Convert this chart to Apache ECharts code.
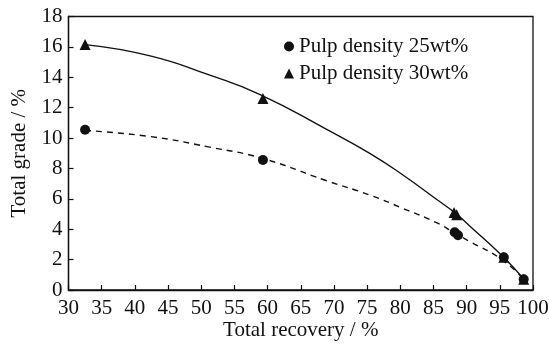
<!DOCTYPE html>
<html>
<head>
<meta charset="utf-8">
<script src="https://cdn.jsdelivr.net/npm/echarts@6/dist/echarts.min.js"></script>
<style>
  html, body { margin: 0; padding: 0; background: #fff; }
  #chart { width: 549px; height: 347px; }
</style>
</head>
<body>
<div id="chart"></div>
<script>
// Measured points: [total recovery %, total grade %]
const density25 = [[32.5, 10.55], [59.3, 8.55], [88.2, 3.8], [88.7, 3.6], [95.6, 2.15], [98.6, 0.7]];
const density30 = [[32.5, 16.15], [59.3, 12.6], [88.1, 5.1], [88.5, 4.95], [95.6, 2.15], [98.6, 0.7]];
// Fitted trend curves, sampled along their drawn path
const trend25 = [[32.5, 10.5], [42.3, 10.1], [51.3, 9.4], [59.3, 8.65], [68.9, 7.19], [75.4, 6.25],
                 [80.4, 5.37], [85.45, 4.43], [88.2, 3.75], [90.5, 3.18], [95.0, 2.1], [98.5, 0.77]];
const trend30 = [[32.5, 16.15], [42.3, 15.41], [51.3, 14.14], [58.8, 12.88], [68.9, 10.57], [75.4, 8.99],
                 [80.4, 7.57], [85.45, 5.97], [88.2, 5.09], [90.5, 4.2], [95.5, 2.19], [98.5, 0.77]];
const seriesNames = ['Pulp density 25wt%', 'Pulp density 30wt%'];
const xTicks = { min: 30, max: 100, step: 5 };
const yTicks = { min: 0, max: 18, step: 2 };

const serif = 'Liberation Serif, Times New Roman, serif';
const ink = '#111';

const chart = echarts.init(document.getElementById('chart'), null, { renderer: 'canvas' });

function axisCommon() {
  return {
    axisLine: { show: true, lineStyle: { color: ink, width: 1.3 } },
    axisTick: { show: true, inside: true, length: 5, lineStyle: { color: ink, width: 1.2 } },
    splitLine: { show: false },
    nameMoveOverlap: false,
    nameTextStyle: { fontFamily: serif, fontSize: 21, color: ink }
  };
}

const option = {
  backgroundColor: '#fff',
  animation: false,
  grid: {
    left: 68.5, right: 16, top: 16.5, bottom: 57,
    outerBoundsMode: 'none', containLabel: false,
    show: true, borderColor: ink, borderWidth: 1.3, backgroundColor: 'transparent'
  },
  legend: {
    orient: 'vertical',
    left: 279, top: 31,
    itemWidth: 10, itemHeight: 10, itemGap: 6,
    textStyle: { fontFamily: serif, fontSize: 21, color: ink },
    data: [
      { name: seriesNames[0], icon: 'circle' },
      { name: seriesNames[1], icon: 'triangle' }
    ]
  },
  xAxis: Object.assign(axisCommon(), {
    type: 'value',
    min: xTicks.min, max: xTicks.max, interval: xTicks.step,
    axisLabel: { fontFamily: serif, fontSize: 21, color: ink, margin: 8 },
    name: 'Total recovery / %', nameLocation: 'middle', nameGap: 30
  }),
  yAxis: Object.assign(axisCommon(), {
    type: 'value',
    min: yTicks.min, max: yTicks.max, interval: yTicks.step,
    axisLabel: { fontFamily: serif, fontSize: 21, color: ink, margin: 6 },
    name: 'Total grade / %', nameLocation: 'middle', nameGap: 39
  }),
  series: [
    {
      name: seriesNames[0] + ' trend', type: 'line', data: trend25,
      smooth: true, showSymbol: false, silent: true,
      lineStyle: { color: ink, width: 1.4, type: [6, 5] }, z: 2
    },
    {
      name: seriesNames[1] + ' trend', type: 'line', data: trend30,
      smooth: true, showSymbol: false, silent: true,
      lineStyle: { color: ink, width: 1.4 }, z: 2
    },
    {
      name: seriesNames[0], type: 'scatter', data: density25,
      symbol: 'circle', symbolSize: 10,
      itemStyle: { color: ink, opacity: 1 }, z: 3
    },
    {
      name: seriesNames[1], type: 'scatter', data: density30,
      symbol: 'triangle', symbolSize: 11,
      itemStyle: { color: ink, opacity: 1 }, z: 3
    }
  ]
};

chart.setOption(option);
</script>
</body>
</html>
